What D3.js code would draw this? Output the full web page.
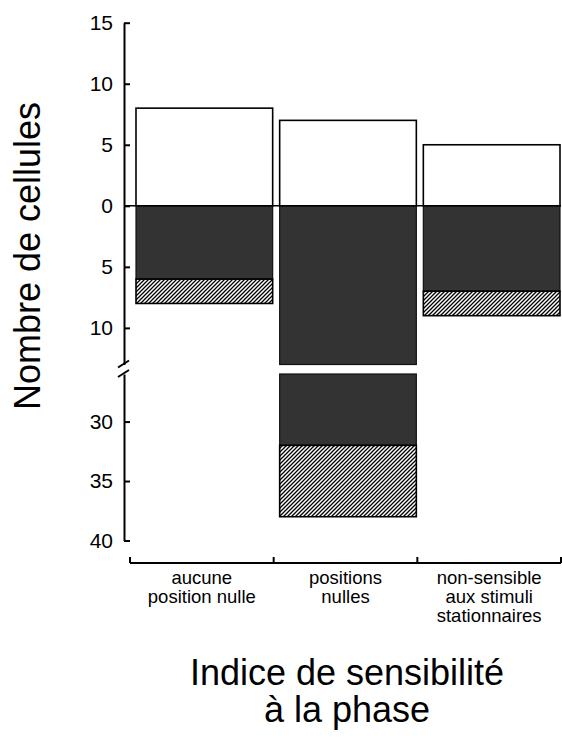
<!DOCTYPE html>
<html>
<head>
<meta charset="utf-8">
<script src="https://cdn.jsdelivr.net/npm/d3@7"></script>
<style>
  html, body { margin: 0; padding: 0; background: #fff; }
  svg { display: block; font-family: "Liberation Sans", Arial, Helvetica, sans-serif; }
</style>
</head>
<body>
<svg id="chart" width="562" height="741"></svg>
<script>
// categories (each label broken into lines as in the figure)
const categories = ["aucune", "positions", "non-sensible"];
const categoryLines = [
  ["aucune", "position nulle"],
  ["positions", "nulles"],
  ["non-sensible", "aux stimuli", "stationnaires"],
];

// cells above zero (open bars)
const openValues = [8, 7, 5];
// cells below zero: solid part, then hatched part stacked under it
const solidValues = [6, 32, 7];
const hatchValues = [2, 6, 2];

// axis ticks (depth below zero given as negative on the upper segment)
const upperTicks = [15, 10, 5, 0, -5, -10];
const lowerTicks = [30, 35, 40];

// broken axis: upper segment goes down to BREAK_LO, lower restarts at BREAK_HI
const BREAK_LO = 13;
const BREAK_HI = 26;

const svg = d3.select("#chart");

const defs = svg.append("defs");
defs.append("pattern")
  .attr("id", "hatch")
  .attr("patternUnits", "userSpaceOnUse")
  .attr("width", 4)
  .attr("height", 4)
  .append("path")
  .attr("d", "M-1,1 l2,-2 M0,4 l4,-4 M3,5 l2,-2")
  .attr("stroke", "#000")
  .attr("stroke-width", 1.3);

const x = d3.scaleBand().domain(categories).range([130, 561]).paddingInner(0);
const yUp = d3.scaleLinear().domain([15, -BREAK_LO]).range([22.7, 364.5]);
const yLo = d3.scaleLinear().domain([BREAK_HI, 40]).range([374, 540.5]);

const barX = (c) => x(c) + 6;
const barW = x.bandwidth() - 7;

// split a depth range [a, b] (below zero) into drawable pieces around the break
function pieces(a, b) {
  const out = [];
  if (a < BREAK_LO) {
    const e = Math.min(b, BREAK_LO);
    out.push({ y0: yUp(-a), y1: yUp(-e) });
  }
  if (b > BREAK_HI) {
    const s = Math.max(a, BREAK_HI);
    out.push({ y0: yLo(s), y1: yLo(b) });
  }
  return out;
}

const g = svg.append("g");

// open bars above zero
g.selectAll("rect.open")
  .data(categories)
  .enter()
  .append("rect")
  .attr("class", "open")
  .attr("x", (c) => barX(c))
  .attr("width", barW)
  .attr("y", (c, i) => yUp(openValues[i]))
  .attr("height", (c, i) => yUp(0) - yUp(openValues[i]))
  .attr("fill", "#fff")
  .attr("stroke", "#000")
  .attr("stroke-width", 1.6);

// solid and hatched pieces below zero
categories.forEach((c, i) => {
  const solid = pieces(0, solidValues[i]);
  const hatch = pieces(solidValues[i], solidValues[i] + hatchValues[i]);
  solid.forEach((p) => {
    g.append("rect")
      .attr("x", barX(c))
      .attr("width", barW)
      .attr("y", p.y0)
      .attr("height", p.y1 - p.y0)
      .attr("fill", "#333")
      .attr("stroke", "#111")
      .attr("stroke-width", 1.2);
  });
  hatch.forEach((p) => {
    g.append("rect")
      .attr("x", barX(c))
      .attr("width", barW)
      .attr("y", p.y0)
      .attr("height", p.y1 - p.y0)
      .attr("fill", "url(#hatch)")
      .attr("stroke", "#000")
      .attr("stroke-width", 1.6);
  });
});

// zero line
g.append("line")
  .attr("x1", 124)
  .attr("x2", 561)
  .attr("y1", yUp(0))
  .attr("y2", yUp(0))
  .attr("stroke", "#000")
  .attr("stroke-width", 1.6);

// y axis, upper and lower segments
const axisX = 124;
const upAxis = svg.append("g")
  .attr("transform", `translate(${axisX},0)`)
  .call(
    d3.axisLeft(yUp)
      .tickValues(upperTicks)
      .tickFormat((d) => Math.abs(d))
      .tickSizeInner(-6)
      .tickSizeOuter(0)
      .tickPadding(11),
  );
const loAxis = svg.append("g")
  .attr("transform", `translate(${axisX},0)`)
  .call(
    d3.axisLeft(yLo)
      .tickValues(lowerTicks)
      .tickSizeInner(-6)
      .tickSizeOuter(0)
      .tickPadding(11),
  );
[upAxis, loAxis].forEach((a) => {
  a.select(".domain").attr("stroke-width", 2);
  a.selectAll(".tick line").attr("stroke-width", 2);
  a.selectAll(".tick text")
    .attr("font-size", 21)
    .attr("font-family", "Liberation Sans, Arial, sans-serif")
    .attr("fill", "#000");
});

// break marks
[yUp.range()[1] - 1, yLo.range()[0] - 1].forEach((yy) => {
  svg.append("line")
    .attr("x1", axisX - 6)
    .attr("x2", axisX + 5)
    .attr("y1", yy + 4)
    .attr("y2", yy - 3)
    .attr("stroke", "#000")
    .attr("stroke-width", 2);
});

// x axis
const xAxisY = 563;
const xr = x.range();
svg.append("line")
  .attr("x1", xr[0])
  .attr("x2", xr[1])
  .attr("y1", xAxisY)
  .attr("y2", xAxisY)
  .attr("stroke", "#000")
  .attr("stroke-width", 2);
svg.selectAll("line.xtick")
  .data(categories.map((c) => x(c)).concat([xr[1]]))
  .enter()
  .append("line")
  .attr("class", "xtick")
  .attr("x1", (d) => d)
  .attr("x2", (d) => d)
  .attr("y1", xAxisY)
  .attr("y2", xAxisY - 6)
  .attr("stroke", "#000")
  .attr("stroke-width", 2);

// category labels
categories.forEach((c, i) => {
  const t = svg.append("text")
    .attr("x", x(c) + x.bandwidth() / 2)
    .attr("y", 584)
    .attr("text-anchor", "middle")
    .attr("font-size", 18.5);
  categoryLines[i].forEach((ln, j) => {
    t.append("tspan")
      .attr("x", x(c) + x.bandwidth() / 2)
      .attr("dy", j === 0 ? 0 : 19)
      .text(ln);
  });
});

// titles
svg.append("text")
  .attr("transform", "translate(40,256) rotate(-90)")
  .attr("text-anchor", "middle")
  .attr("font-size", 36)
  .text("Nombre de cellules");

const xt = svg.append("text")
  .attr("text-anchor", "middle")
  .attr("font-size", 36);
xt.append("tspan").attr("x", 347).attr("y", 685).text("Indice de sensibilité");
xt.append("tspan").attr("x", 347).attr("y", 722).text("à la phase");
</script>
</body>
</html>
